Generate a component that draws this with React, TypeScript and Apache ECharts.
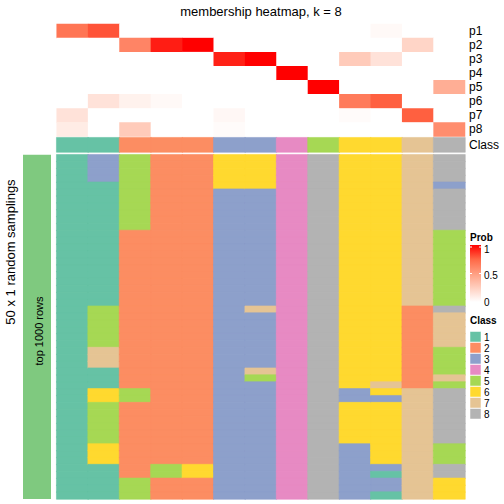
import React, { useEffect, useRef } from "react";
import * as echarts from "echarts";

const FONT = "'Liberation Sans', Arial, Helvetica, sans-serif";

const sampleCols = ["s1","s2","s3","s4","s5","s6","s7","s8","s9","s10","s11","s12","s13"];
const probLabels = ["p1","p2","p3","p4","p5","p6","p7","p8"];

const p1 = [0.69, 0.80, 0, 0, 0, 0, 0, 0, 0, 0, 0.03, 0, 0];
const p2 = [0, 0, 0.62, 0.93, 1, 0, 0, 0, 0, 0, 0, 0.22, 0];
const p3 = [0, 0, 0, 0, 0, 0.92, 1, 0, 0, 0.27, 0.15, 0, 0];
const p4 = [0, 0, 0, 0, 0, 0, 0, 1, 0, 0, 0, 0, 0];
const p5 = [0, 0, 0, 0, 0, 0, 0, 0, 1, 0, 0, 0, 0.42];
const p6 = [0, 0.15, 0.07, 0.03, 0, 0, 0, 0, 0, 0.66, 0.77, 0, 0];
const p7 = [0.15, 0, 0, 0, 0, 0.04, 0, 0, 0, 0.02, 0, 0.77, 0];
const p8 = [0.1, 0, 0.27, 0, 0, 0.02, 0, 0, 0, 0, 0, 0, 0.58];
const probMatrix = [p1, p2, p3, p4, p5, p6, p7, p8];

const classRow = [1, 1, 2, 2, 2, 3, 3, 4, 5, 6, 6, 7, 8];

const classColors = ["#66C2A5", "#FC8D62", "#8DA0CB", "#E78AC3", "#A6D854", "#FFD92F", "#E5C494", "#B3B3B3"];
const classNames = ["1", "2", "3", "4", "5", "6", "7", "8"];

// run-length encoded class per sampling (top to bottom), one list per column
const col1 = [[1, 50]];
const col2 = [[3, 4], [1, 18], [5, 6], [7, 3], [1, 3], [6, 2], [5, 6], [6, 3], [1, 5]];
const col3 = [[5, 11], [2, 23], [5, 2], [2, 11], [5, 3]];
const col4 = [[2, 45], [5, 2], [2, 3]];
const col5 = [[2, 45], [6, 2], [2, 3]];
const col6 = [[6, 5], [3, 45]];
const col7 = [[6, 5], [3, 17], [7, 1], [3, 8], [7, 1], [5, 1], [3, 17]];
const col8 = [[4, 50]];
const col9 = [[8, 50]];
const col10 = [[6, 34], [3, 2], [6, 6], [3, 8]];
const col11 = [[6, 33], [7, 1], [6, 1], [3, 1], [6, 9], [3, 1], [1, 1], [3, 2], [1, 1]];
const col12 = [[7, 22], [2, 12], [7, 16]];
const col13 = [[8, 4], [3, 1], [8, 6], [5, 11], [8, 1], [7, 5], [5, 4], [7, 1], [5, 1], [8, 8], [5, 3], [8, 2], [6, 3]];
const samplingRuns = [col1, col2, col3, col4, col5, col6, col7, col8, col9, col10, col11, col12, col13];

const probLegendTicks = ["1", "0.5", "0"];

function expand(runs: number[][]): number[] {
  const out: number[] = [];
  runs.forEach(([v, n]) => { for (let i = 0; i < n; i++) out.push(v); });
  return out;
}

// LAB-like white->red ramp used both for the cells and the legend
const probRamp = ["#FFFFFF", "#FFCFBF", "#FF9E81", "#FF6846", "#FF0000"];

export default function App() {
  const ref = useRef<HTMLDivElement>(null);
  useEffect(() => {
    if (!ref.current) return;
    const chart = echarts.init(ref.current, undefined, { renderer: "svg" });

    const probData: number[][] = [];
    probMatrix.forEach((row, r) => row.forEach((v, c) => probData.push([c, r, v])));
    const classItem = (c: number, r: number, v: number) => ({
      value: [c, r, v],
      itemStyle: { borderColor: classColors[v - 1], borderWidth: 0.6 },
    });
    const classData = classRow.map((v, c) => classItem(c, 0, v));
    const cols = samplingRuns.map(expand);
    const nRows = cols[0].length;
    const rowNames = Array.from({ length: nRows }, (_, i) => String(i + 1));
    const mainData: any[] = [];
    cols.forEach((col, c) => col.forEach((v, r) => mainData.push(classItem(c, r, v))));

    const L = 56.7, W = 408.3;
    const grids = [
      { left: L, top: 24, width: W, height: 112.5 },
      { left: L, top: 137.7, width: W, height: 14.3 },
      { left: L, top: 154.7, width: W, height: 344.3 },
    ];
    const hiddenX = (gi: number) => ({
      type: "category", gridIndex: gi, data: sampleCols, show: false,
    });
    const rightY = (gi: number, data: string[], show: boolean) => ({
      type: "category", gridIndex: gi, data, inverse: true, position: "right",
      show,
      axisLine: { show: false }, axisTick: { show: false }, splitLine: { show: false },
      axisLabel: { show, interval: 0, fontSize: 12, color: "#000", margin: 4, fontFamily: FONT },
    });

    const legendX = 470;
    const centered = { align: "center", verticalAlign: "middle", textAlign: "center", textVerticalAlign: "middle" };
    const leftMid = { align: "left", verticalAlign: "middle", textAlign: "left", textVerticalAlign: "middle" };
    const graphics: any[] = [
      {
        type: "text", x: 261, y: 11,
        style: { text: "membership heatmap, k = 8", fontSize: 13, fontFamily: FONT, fill: "#000", ...centered },
      },
      {
        type: "text", x: 10, y: 252, rotation: Math.PI / 2,
        style: { text: "50 x 1 random samplings", fontSize: 13, fontFamily: FONT, fill: "#000", ...centered },
      },
      {
        type: "rect", shape: { x: 23, y: 154.7, width: 28, height: 344.3 },
        style: { fill: "#7FC97F" },
      },
      {
        type: "text", x: 39, y: 331, rotation: Math.PI / 2,
        style: { text: "top 1000 rows", fontSize: 11, fontFamily: FONT, fill: "#000", ...centered },
      },
      {
        type: "text", x: legendX, y: 237,
        style: { text: "Prob", fontSize: 10, fontWeight: "bold", fontFamily: FONT, fill: "#000", ...leftMid },
      },
      {
        type: "rect", shape: { x: legendX, y: 245, width: 11, height: 57 },
        style: {
          fill: {
            type: "linear", x: 0, y: 0, x2: 0, y2: 1,
            colorStops: probRamp.slice().reverse().map((color, i, arr) => ({ offset: i / (arr.length - 1), color })),
          },
        },
      },
      { type: "line", shape: { x1: legendX, y1: 273.5, x2: legendX + 2, y2: 273.5 }, style: { stroke: "#fff", lineWidth: 1 } },
      { type: "line", shape: { x1: legendX + 9, y1: 273.5, x2: legendX + 11, y2: 273.5 }, style: { stroke: "#fff", lineWidth: 1 } },
      { type: "line", shape: { x1: legendX, y1: 247, x2: legendX + 2, y2: 247 }, style: { stroke: "#fff", lineWidth: 1 } },
      { type: "line", shape: { x1: legendX + 9, y1: 247, x2: legendX + 11, y2: 247 }, style: { stroke: "#fff", lineWidth: 1 } },
      {
        type: "text", x: legendX, y: 320,
        style: { text: "Class", fontSize: 10, fontWeight: "bold", fontFamily: FONT, fill: "#000", ...leftMid },
      },
    ];
    const tickYs = [249, 275.5, 302];
    probLegendTicks.forEach((t, i) => {
      graphics.push({
        type: "text", x: 484, y: tickYs[i],
        style: { text: t, fontSize: 10, fontFamily: FONT, fill: "#000", ...leftMid },
      });
    });
    classNames.forEach((name, i) => {
      const y0 = 331.5 + 11 * i;
      graphics.push({
        type: "rect", shape: { x: legendX, y: y0, width: 11, height: 10.5 },
        style: { fill: classColors[i], stroke: "#fff", lineWidth: 0.5 },
      });
      graphics.push({
        type: "text", x: 484, y: y0 + 5.5,
        style: { text: name, fontSize: 10, fontFamily: FONT, fill: "#000", ...leftMid },
      });
    });

    chart.setOption({
      animation: false,
      backgroundColor: "#fff",
      textStyle: { fontFamily: FONT },
      grid: grids,
      xAxis: [hiddenX(0), hiddenX(1), hiddenX(2)],
      yAxis: [rightY(0, probLabels, true), rightY(1, ["Class"], true), rightY(2, rowNames, false)],
      visualMap: [
        {
          type: "continuous", min: 0, max: 1, seriesIndex: 0, show: false, calculable: false,
          inRange: { color: probRamp },
        },
        {
          type: "piecewise", seriesIndex: [1, 2], show: false,
          pieces: classColors.map((color, i) => ({ value: i + 1, color })),
        },
      ],
      series: [
        { type: "heatmap", xAxisIndex: 0, yAxisIndex: 0, data: probData, itemStyle: { borderWidth: 0 }, emphasis: { disabled: true } },
        { type: "heatmap", xAxisIndex: 1, yAxisIndex: 1, data: classData, emphasis: { disabled: true } },
        { type: "heatmap", xAxisIndex: 2, yAxisIndex: 2, data: mainData, emphasis: { disabled: true } },
      ],
      graphic: graphics,
    });
    return () => chart.dispose();
  }, []);
  return (
    <div
      ref={ref}
      style={{ position: "fixed", left: 0, top: 0, width: 504, height: 504, background: "#fff" }}
    />
  );
}
